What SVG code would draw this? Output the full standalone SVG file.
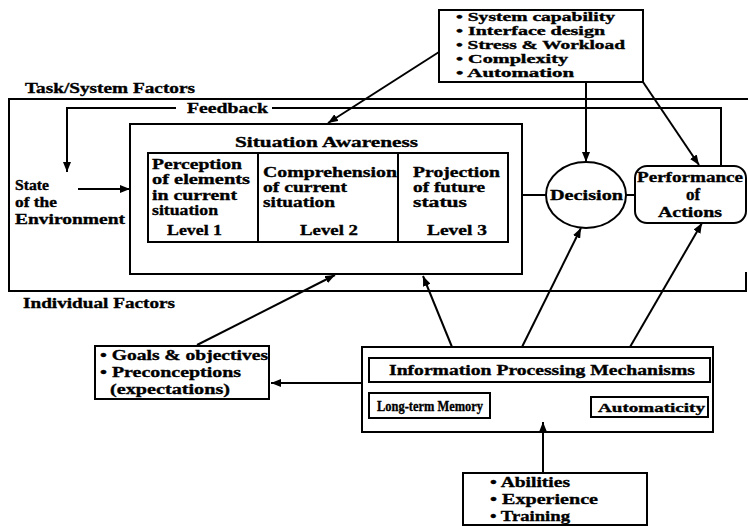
<svg xmlns="http://www.w3.org/2000/svg" width="748" height="526" viewBox="0 0 748 526">
<defs>
<style>
text{font-family:"Liberation Serif","Times New Roman",serif;font-weight:700;font-size:15px;fill:#000;stroke:#000;stroke-width:0.35}
.t{font-size:12.5px}
.s{font-size:13px}
.box{fill:none;stroke:#000;stroke-width:2}
.ln{fill:none;stroke:#000;stroke-width:2}
.c{text-anchor:middle}
</style>
<marker id="ah" markerUnits="userSpaceOnUse" markerWidth="10" markerHeight="8" refX="10" refY="4" orient="auto">
<path d="M0,0 L10,4 L0,8 z" fill="#000"/>
</marker>
</defs>
<rect width="748" height="526" fill="#fff"/>

<g id="task-system-frame">
<path class="box" d="M748,99 H9 V291 H746 V272"/>
<text x="25" y="93" textLength="170" lengthAdjust="spacingAndGlyphs">Task/System Factors</text>
</g>

<text id="individual-factors" x="23" y="308" textLength="152" lengthAdjust="spacingAndGlyphs">Individual Factors</text>

<g id="connectors">
<line class="ln" x1="439" y1="52" x2="328" y2="123" marker-end="url(#ah)"/>
<line class="ln" x1="586" y1="82" x2="586" y2="162" marker-end="url(#ah)"/>
<line class="ln" x1="643" y1="82" x2="699" y2="165" marker-end="url(#ah)"/>
<path class="ln" d="M721,166 V108 H272"/>
<path class="ln" d="M176,108 H67 V172" marker-end="url(#ah)"/>
<line class="ln" x1="78" y1="189" x2="130" y2="189" marker-end="url(#ah)"/>
<line class="ln" x1="522" y1="195" x2="546" y2="195"/>
<line class="ln" x1="626" y1="195" x2="635" y2="195"/>
<line class="ln" x1="197" y1="345" x2="335" y2="275" marker-end="url(#ah)"/>
<line class="ln" x1="452" y1="347" x2="423" y2="276" marker-end="url(#ah)"/>
<line class="ln" x1="522" y1="347" x2="581" y2="228" marker-end="url(#ah)"/>
<line class="ln" x1="630" y1="347" x2="702" y2="223" marker-end="url(#ah)"/>
<line class="ln" x1="361" y1="383" x2="271" y2="383" marker-end="url(#ah)"/>
<line class="ln" x1="543" y1="473" x2="543" y2="422" marker-end="url(#ah)"/>
</g>

<text id="feedback-label" x="187" y="113" textLength="81" lengthAdjust="spacingAndGlyphs">Feedback</text>

<g id="task-factors">
<rect class="box" x="439" y="10" width="204" height="72"/>
<text class="t" x="456" y="21" textLength="159" lengthAdjust="spacingAndGlyphs">• System capability</text>
<text class="t" x="456" y="35" textLength="149" lengthAdjust="spacingAndGlyphs">• Interface design</text>
<text class="t" x="456" y="49" textLength="169" lengthAdjust="spacingAndGlyphs">• Stress &amp; Workload</text>
<text class="t" x="456" y="63" textLength="112" lengthAdjust="spacingAndGlyphs">• Complexity</text>
<text class="t" x="456" y="77" textLength="118" lengthAdjust="spacingAndGlyphs">• Automation</text>
</g>

<g id="state-environment">
<text x="15" y="190" textLength="34" lengthAdjust="spacingAndGlyphs">State</text>
<text x="15" y="207" textLength="42" lengthAdjust="spacingAndGlyphs">of the</text>
<text x="15" y="224" textLength="110" lengthAdjust="spacingAndGlyphs">Environment</text>
</g>

<g id="situation-awareness">
<rect class="box" x="130" y="124" width="392" height="150"/>
<text x="235" y="147" textLength="183" lengthAdjust="spacingAndGlyphs">Situation Awareness</text>
<rect class="box" x="148" y="153" width="360" height="89"/>
<line class="ln" x1="258" y1="153" x2="258" y2="242"/>
<line class="ln" x1="398" y1="153" x2="398" y2="242"/>
</g>

<g id="level1">
<text x="152" y="169" textLength="90" lengthAdjust="spacingAndGlyphs">Perception</text>
<text x="152" y="184" textLength="98" lengthAdjust="spacingAndGlyphs">of elements</text>
<text x="152" y="200" textLength="85" lengthAdjust="spacingAndGlyphs">in current</text>
<text x="152" y="215" textLength="66" lengthAdjust="spacingAndGlyphs">situation</text>
<text x="167" y="235" textLength="55" lengthAdjust="spacingAndGlyphs">Level 1</text>
</g>

<g id="level2">
<text x="263" y="177" textLength="134" lengthAdjust="spacingAndGlyphs">Comprehension</text>
<text x="263" y="192" textLength="84" lengthAdjust="spacingAndGlyphs">of current</text>
<text x="263" y="207" textLength="72" lengthAdjust="spacingAndGlyphs">situation</text>
<text x="300" y="235" textLength="58" lengthAdjust="spacingAndGlyphs">Level 2</text>
</g>

<g id="level3">
<text x="413" y="177" textLength="87" lengthAdjust="spacingAndGlyphs">Projection</text>
<text x="413" y="192" textLength="72" lengthAdjust="spacingAndGlyphs">of future</text>
<text x="413" y="207" textLength="54" lengthAdjust="spacingAndGlyphs">status</text>
<text x="427" y="235" textLength="60" lengthAdjust="spacingAndGlyphs">Level 3</text>
</g>

<g id="decision">
<ellipse class="box" cx="586" cy="195" rx="40" ry="33"/>
<text x="550" y="200" textLength="73" lengthAdjust="spacingAndGlyphs">Decision</text>
</g>

<g id="performance">
<rect class="box" x="635" y="166" width="111" height="57" rx="12" ry="12"/>
<text x="637" y="182" textLength="106" lengthAdjust="spacingAndGlyphs">Performance</text>
<text x="693" y="200" class="c" style="font-size:17px">of</text>
<text x="658" y="217" textLength="64" lengthAdjust="spacingAndGlyphs">Actions</text>
</g>

<g id="individual-goals">
<rect class="box" x="95" y="346" width="174" height="53"/>
<text x="100" y="360" textLength="168" lengthAdjust="spacingAndGlyphs">• Goals &amp; objectives</text>
<text x="100" y="377" textLength="141" lengthAdjust="spacingAndGlyphs">• Preconceptions</text>
<text x="110" y="394" textLength="120" lengthAdjust="spacingAndGlyphs">(expectations)</text>
</g>

<g id="processing">
<rect class="box" x="362" y="347" width="351" height="85"/>
<rect class="box" x="369" y="358" width="341" height="24"/>
<text x="389" y="375" textLength="306" lengthAdjust="spacingAndGlyphs">Information Processing Mechanisms</text>
</g>

<g id="long-term-memory">
<rect class="box" x="369" y="393" width="121" height="25"/>
<text x="377" y="411" style="font-size:14.5px" textLength="106" lengthAdjust="spacingAndGlyphs">Long-term Memory</text>
</g>

<g id="automaticity">
<rect class="box" x="591" y="397" width="117" height="20"/>
<text class="s" x="598" y="412" textLength="107" lengthAdjust="spacingAndGlyphs">Automaticity</text>
</g>

<g id="abilities">
<rect class="box" x="463" y="473" width="184" height="52"/>
<text x="490" y="487" textLength="80" lengthAdjust="spacingAndGlyphs">• Abilities</text>
<text x="490" y="504" textLength="108" lengthAdjust="spacingAndGlyphs">• Experience</text>
<text x="490" y="521" textLength="80" lengthAdjust="spacingAndGlyphs">• Training</text>
</g>
</svg>
